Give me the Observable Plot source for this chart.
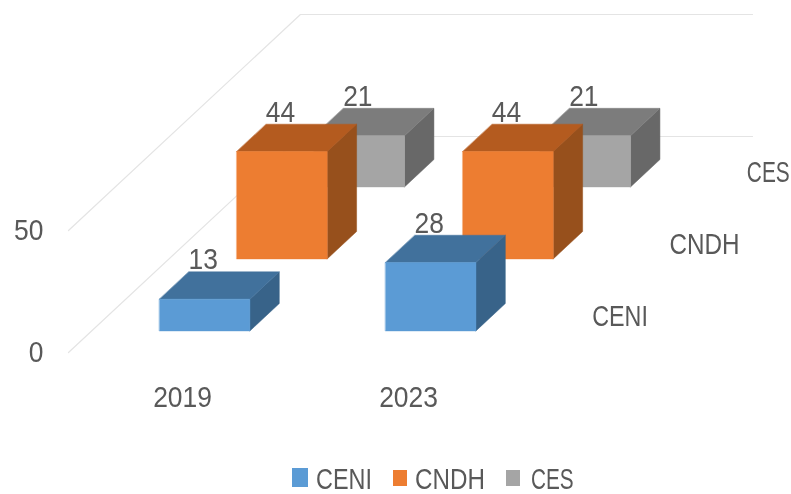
<!DOCTYPE html>
<html>
<head>
<meta charset="utf-8">
<script src="https://cdn.jsdelivr.net/npm/d3@7"></script>
<script src="https://cdn.jsdelivr.net/npm/@observablehq/plot@0.6"></script>
<style>
html,body{margin:0;padding:0;background:#fff;}
#chart{width:791px;height:494px;overflow:hidden;filter:blur(0.6px);font-family:"Liberation Sans",sans-serif;color:#595959;}
#chart svg{display:block;}
#legend{position:relative;height:34px;font-size:29px;line-height:38px;}
#legend span{position:absolute;top:0;}
#legend span.t{transform-origin:left center;white-space:nowrap;}
</style>
</head>
<body>
<div id="chart"></div>
<script>
const years = ["2019", "2023"];
const series = ["CENI", "CNDH", "CES"];
const ceni = [13, 28];
const cndh = [44, 44];
const ces = [21, 21];
const faceFront = ["#5b9bd5", "#ed7d31", "#a5a5a5"];
const faceTop = ["#41719c", "#b45b1f", "#7c7c7c"];
const faceSide = ["#386389", "#97501c", "#686868"];
const ticks = [0, 50];
const values = [ceni, cndh, ces];

// Legend placement
const legendSwatchX = [292, 393, 506];
const legendSwatchW = [16, 14, 14];
const legendSwatchH = [19, 16, 16];
const legendSwatchTop = [8, 10, 10];
const legendTextX = [316, 415, 531];

// Narrow-font advance widths (em): no condensed face is installed, so text is fitted to these
const advance = {C: .533, E: .488, N: .646, I: .252, D: .615, H: .623, S: .459};
const fitWidth = s => [...s].reduce((w, c) => w + (advance[c] ?? .507), 0) * 29;

// Oblique projection of the 3-D chart space on the two plot scales
const slotsPerDepth = 77.3 / 226;   // x shift of one depth row, in category slots
const valuePerDepth = 72 / 2.44;    // y shift of one depth row, in value units
const px = (slot, depth) => slot + depth * slotsPerDepth;
const py = (value, depth) => value + depth * valuePerDepth;
const barStart = 0.3, barEnd = 0.7, depthEnd = 0.68;

const polys = [];
function poly(id, color, pts) {
  for (const [s, v, d] of pts) polys.push({id, color, x: px(s, d), y: py(v, d)});
}
// back to front, left to right
for (let j = series.length - 1; j >= 0; j--) {
  years.forEach((yr, i) => {
    const v = values[j][i];
    const s0 = i + barStart, s1 = i + barEnd, d0 = j + barStart, d1 = j + depthEnd;
    const id = series[j] + yr;
    poly(id + "side", faceSide[j], [[s1, 0, d0], [s1, 0, d1], [s1, v, d1], [s1, v, d0]]);
    poly(id + "top", faceTop[j], [[s0, v, d0], [s1, v, d0], [s1, v, d1], [s0, v, d1]]);
    poly(id + "front", faceFront[j], [[s0, 0, d0], [s1, 0, d0], [s1, v, d0], [s0, v, d0]]);
  });
}

const depthRows = series.length, slots = years.length;
const grid = [];
ticks.forEach(t => {
  const id = "g" + t;
  [[0, t, 0], [0, t, depthRows], [slots, t, depthRows]].forEach(([s, v, d]) =>
    grid.push({id, x: px(s, d), y: py(v, d)}));
});

const labels = [];
series.forEach((name, j) => years.forEach((yr, i) => labels.push({
  x: px(i + 0.5, j + barStart), y: py(values[j][i], j + barStart), text: String(values[j][i])
})));

const font = {fontSize: 29, fill: "#595959"};
const plot = Plot.plot({
  width: 791, height: 460,
  marginLeft: 68, marginRight: 39, marginTop: 14, marginBottom: 108,
  x: {type: "linear", domain: [0, slots + depthRows * slotsPerDepth], axis: null},
  y: {type: "linear", domain: [0, 50 + depthRows * valuePerDepth], axis: null},
  style: {fontFamily: '"Liberation Sans",sans-serif', background: "transparent"},
  marks: [
    Plot.line(grid, {x: "x", y: "y", z: "id", stroke: "#e4e4e4", strokeWidth: 1.2}),
    Plot.line(polys, {x: "x", y: "y", z: "id", fill: "color", stroke: "color", strokeWidth: 0.5, curve: "linear-closed"}),
    Plot.text(labels, {x: "x", y: "y", text: "text", dy: -39, dx: -1.5, ...font}),
    Plot.text(ticks, {x: () => 0, y: d => d, text: d => String(d), textAnchor: "end", dx: -25, ...font}),
    Plot.text(years, {x: (d, i) => i + 0.5, y: () => -18.4, text: d => d, dx: 1, ...font}),
    Plot.text(series, {x: (d, j) => px(slots, j + 0.5), y: (d, j) => py(0, j + 0.5), text: d => d, textAnchor: "start", dx: 33, ...font})
  ]
});
const root = document.getElementById("chart");
root.appendChild(plot);
plot.querySelectorAll("text").forEach(t => {
  const k = fitWidth(t.textContent) / t.getComputedTextLength();
  t.setAttribute("transform", (t.getAttribute("transform") || "") + ` scale(${k},1)`);
});

const lg = document.createElement("div");
lg.id = "legend";
root.appendChild(lg);
series.forEach((name, j) => {
  const s = document.createElement("span");
  s.className = "s";
  s.style.cssText = `left:${legendSwatchX[j]}px;top:${legendSwatchTop[j]}px;width:${legendSwatchW[j]}px;height:${legendSwatchH[j]}px;background:${faceFront[j]}`;
  const t = document.createElement("span");
  t.className = "t";
  t.style.left = legendTextX[j] + "px";
  t.textContent = name;
  lg.append(s, t);
  t.style.transform = `scaleX(${fitWidth(name) / t.offsetWidth})`;
});
</script>
</body>
</html>
